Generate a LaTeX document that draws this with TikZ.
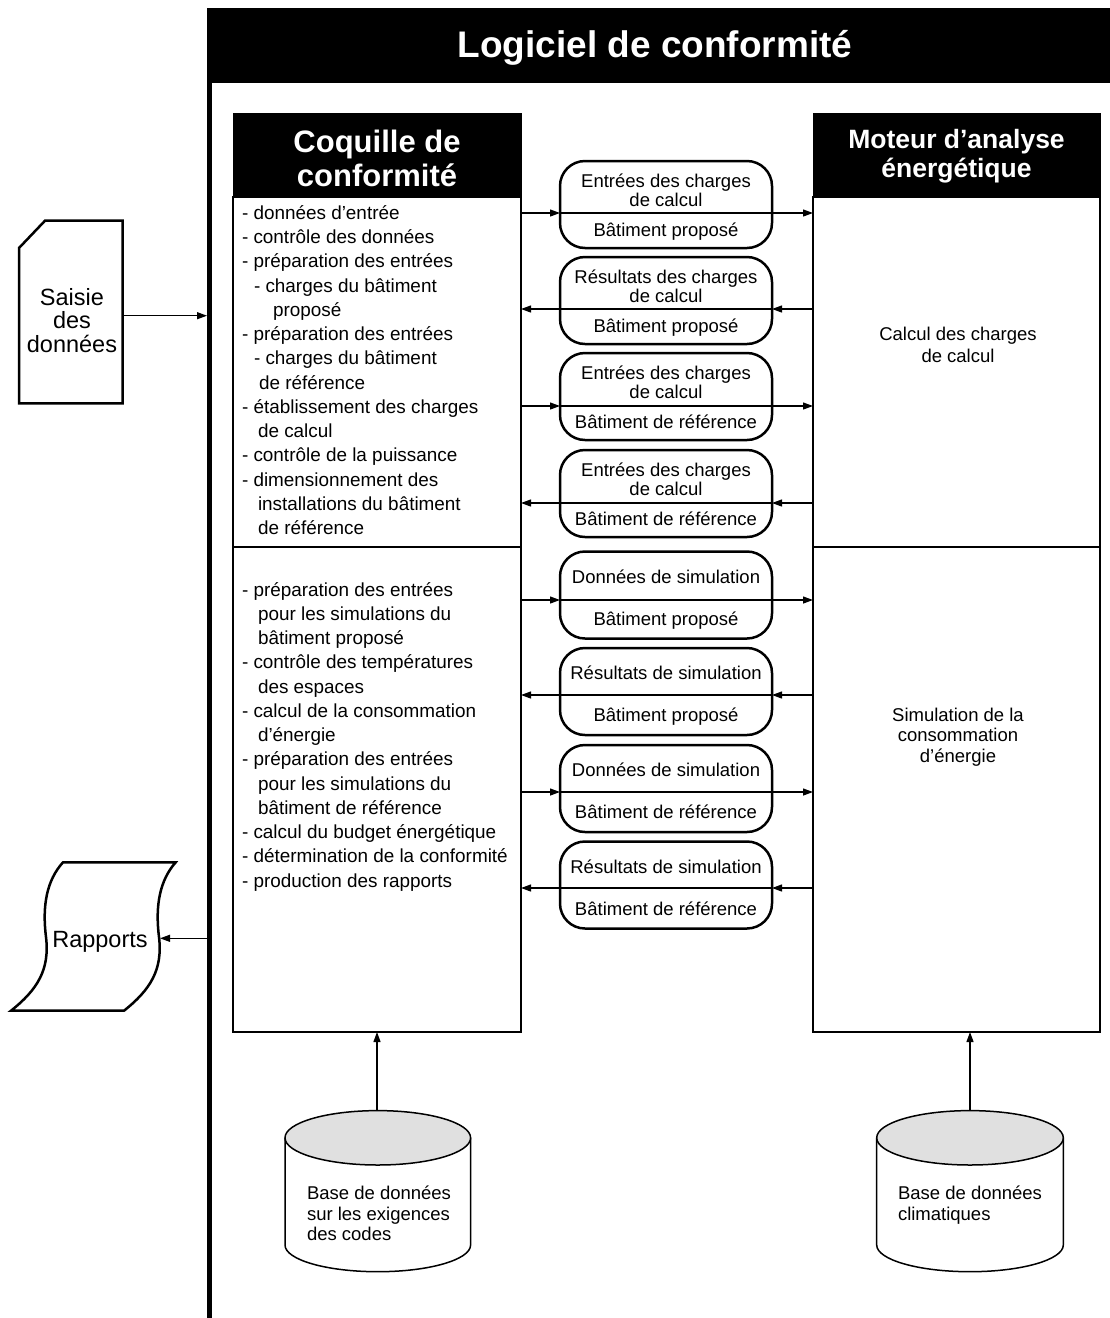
\documentclass[tikz,border=0pt]{standalone}
\usepackage{fontspec}
\setmainfont{Liberation Sans}
\usetikzlibrary{arrows.meta}
\newcommand\setfs[2]{\fontsize{#1}{#2}\selectfont}
\definecolor{cylgray}{HTML}{E0E0E0}
\begin{document}
\begin{tikzpicture}[x=1pt,y=-1pt,
  every node/.style={inner sep=0pt,outer sep=0pt},
  blk/.style={fill=black,draw=black},
  panel/.style={draw,line width=2pt,fill=white},
  rbox/.style={draw,line width=2.5pt,rounded corners=25pt,fill=white,minimum width=212pt,minimum height=87pt},
  small/.style={font=\setfs{18.5}{22},anchor=base},
  lst/.style={font=\setfs{18.9}{22},anchor=base west},
  dbt/.style={font=\setfs{18.5}{20},anchor=base west},
  ttl/.style={text=white,font=\bfseries\setfs{31}{34},anchor=base},
  mttl/.style={text=white,font=\bfseries\setfs{26.5}{29},anchor=base},
  big/.style={font=\setfs{23.5}{24},anchor=base},
  arr/.style={line width=1.2pt,-{Triangle[length=10pt,width=7pt]}},
  outline/.style={line width=2.5pt,line join=miter},
  cyl/.style={line width=1.5pt},
  divider/.style={line width=1.2pt}]
\useasboundingbox (0,0) rectangle (1110,1318);

% ---------- main header and frame ----------
\node[blk,minimum width=903pt,minimum height=74pt] (hdr) at (658.5,45) {};
\node[text=white,font=\bfseries\setfs{37}{40},anchor=base] (title) at (655,57.5) {Logiciel de conformité};
\draw[line width=5pt] (209.5,81) -- (209.5,1318);

% ---------- Coquille de conformite ----------
\node[blk,minimum width=288pt,minimum height=84pt] (cqh) at (377,155) {};
\node[ttl] (cqt1) at (377,152) {Coquille de};
\node[ttl] (cqt2) at (377,186) {conformité};
\node[panel,minimum width=288pt,minimum height=835pt] (cq) at (377,614.5) {};
\coordinate (dv) at (0,547);
\draw[divider] (cq.west |- dv) -- (cq.east |- dv);

\foreach \ltext/\lind [count=\i from 0] in {
  {- données d’entrée}/0,
  {- contrôle des données}/0,
  {- préparation des entrées}/0,
  {- charges du bâtiment}/12,
  {proposé}/31,
  {- préparation des entrées}/0,
  {- charges du bâtiment}/12,
  {de référence}/17,
  {- établissement des charges}/0,
  {de calcul}/16,
  {- contrôle de la puissance}/0,
  {- dimensionnement des}/0,
  {installations du bâtiment}/16,
  {de référence}/16}
  \node[lst] (pa\i) at ({242+\lind},{219.5+24.23*\i}) {\ltext};

\foreach \ltext/\lind [count=\i from 0] in {
  {- préparation des entrées}/0,
  {pour les simulations du}/16,
  {bâtiment proposé}/16,
  {- contrôle des températures}/0,
  {des espaces}/16,
  {- calcul de la consommation}/0,
  {d’énergie}/16,
  {- préparation des entrées}/0,
  {pour les simulations du}/16,
  {bâtiment de référence}/16,
  {- calcul du budget énergétique}/0,
  {- détermination de la conformité}/0,
  {- production des rapports}/0}
  \node[lst] (pb\i) at ({242+\lind},{596+24.25*\i}) {\ltext};

% ---------- Moteur d'analyse energetique ----------
\node[blk,minimum width=287pt,minimum height=84pt] (mth) at (956.5,155) {};
\node[mttl] (mtt1) at (956.5,148.5) {Moteur d’analyse};
\node[mttl] (mtt2) at (956.5,177.5) {énergétique};
\node[panel,minimum width=287pt,minimum height=835pt] (mt) at (956.5,614.5) {};
\draw[divider] (mt.west |- dv) -- (mt.east |- dv);
\node[small] (mtc1) at (958,340.5) {Calcul des charges};
\node[small] (mtc2) at (958,362) {de calcul};
\node[small] (mts1) at (958,721) {Simulation de la};
\node[small] (mts2) at (958,741.5) {consommation};
\node[small] (mts3) at (958,762) {d’énergie};

% ---------- exchange boxes ----------
\node[rbox] (b1) at (666,204.5) {};
\node[rbox] (b2) at (666,300.5) {};
\node[rbox] (b3) at (666,396.5) {};
\node[rbox] (b4) at (666,493.5) {};
\node[rbox] (b5) at (666,595) {};
\node[rbox] (b6) at (666,691.5) {};
\node[rbox] (b7) at (666,788.5) {};
\node[rbox] (b8) at (666,885) {};

\node[small] (b1u1) at (666,187) {Entrées des charges};
\node[small] (b1u2) at (666,206.5) {de calcul};
\node[small] (b1l) at (666,236.5) {Bâtiment proposé};
\node[small] (b2u1) at (666,283) {Résultats des charges};
\node[small] (b2u2) at (666,302.5) {de calcul};
\node[small] (b2l) at (666,332.5) {Bâtiment proposé};
\node[small] (b3u1) at (666,379) {Entrées des charges};
\node[small] (b3u2) at (666,398.5) {de calcul};
\node[small] (b3l) at (666,428.5) {Bâtiment de référence};
\node[small] (b4u1) at (666,476) {Entrées des charges};
\node[small] (b4u2) at (666,495.5) {de calcul};
\node[small] (b4l) at (666,525.5) {Bâtiment de référence};
\node[small] (b5u) at (666,583) {Données de simulation};
\node[small] (b5l) at (666,625.5) {Bâtiment proposé};
\node[small] (b6u) at (666,679) {Résultats de simulation};
\node[small] (b6l) at (666,721.5) {Bâtiment proposé};
\node[small] (b7u) at (666,776) {Données de simulation};
\node[small] (b7l) at (666,818.5) {Bâtiment de référence};
\node[small] (b8u) at (666,873) {Résultats de simulation};
\node[small] (b8l) at (666,915.5) {Bâtiment de référence};

\coordinate (a1) at (666,213);
\coordinate (a2) at (666,309);
\coordinate (a3) at (666,406);
\coordinate (a4) at (666,503);
\coordinate (a5) at (666,600);
\coordinate (a6) at (666,695);
\coordinate (a7) at (666,792);
\coordinate (a8) at (666,888);

\foreach \i in {1,3,5,7} {
  \draw[arr] (cq.east |- a\i) -- (b\i.west |- a\i);
  \draw[arr] (b\i.west |- a\i) -- (mt.west |- a\i);
}
\foreach \i in {2,4,6,8} {
  \draw[arr] (mt.west |- a\i) -- (b\i.east |- a\i);
  \draw[arr] (b\i.east |- a\i) -- (cq.east |- a\i);
}

% ---------- Saisie des donnees ----------
\draw[outline] (45,220.7) -- (122.7,220.7) -- (122.7,403.3) -- (19,403.3) -- (19,248) -- cycle;
\node[big] (sa1) at (72,305) {Saisie};
\node[big] (sa2) at (72,328.5) {des};
\node[big] (sa3) at (72,352) {données};
\coordinate (saE) at (122.7,315.7);
\draw[arr] (saE) -- (saE -| hdr.west);

% ---------- Rapports ----------
\draw[outline] (63,862.3) -- (175.7,862.3)
  .. controls (160,880) and (155,905) .. (159,937)
  .. controls (163,970) and (150,990) .. (124,1010.7)
  -- (11,1010.7)
  .. controls (37,990) and (50,970) .. (46,937)
  .. controls (42,905) and (47,880) .. (63,862.3) -- cycle;
\node[big] (rp) at (100,947) {Rapports};
\coordinate (rpE) at (160,938.3);
\draw[arr] (rpE -| hdr.west) -- (rpE);

% ---------- databases ----------
\draw[cyl,fill=white] (285,1137.8) -- (285,1245)
  .. controls (285,1259.7) and (326.5,1271.7) .. (377.8,1271.7)
  .. controls (429.1,1271.7) and (470.6,1259.7) .. (470.6,1245) -- (470.6,1137.8);
\draw[cyl,fill=cylgray] (377.8,1137.8) ellipse [x radius=92.8,y radius=27.2];
\node[dbt] (db1a) at (307,1199.5) {Base de données};
\node[dbt] (db1b) at (307,1220) {sur les exigences};
\node[dbt] (db1c) at (307,1240.5) {des codes};
\coordinate (cy1) at (377,1110.6);
\draw[arr] (cy1) -- (cy1 |- cq.south);

\draw[cyl,fill=white] (876.7,1137.8) -- (876.7,1245)
  .. controls (876.7,1259.7) and (918.5,1271.7) .. (970,1271.7)
  .. controls (1021.5,1271.7) and (1063.3,1259.7) .. (1063.3,1245) -- (1063.3,1137.8);
\draw[cyl,fill=cylgray] (970,1137.8) ellipse [x radius=93.3,y radius=27.2];
\node[dbt] (db2a) at (898,1199.5) {Base de données};
\node[dbt] (db2b) at (898,1220) {climatiques};
\coordinate (cy2) at (970,1110.6);
\draw[arr] (cy2) -- (cy2 |- mt.south);
\end{tikzpicture}
\end{document}
